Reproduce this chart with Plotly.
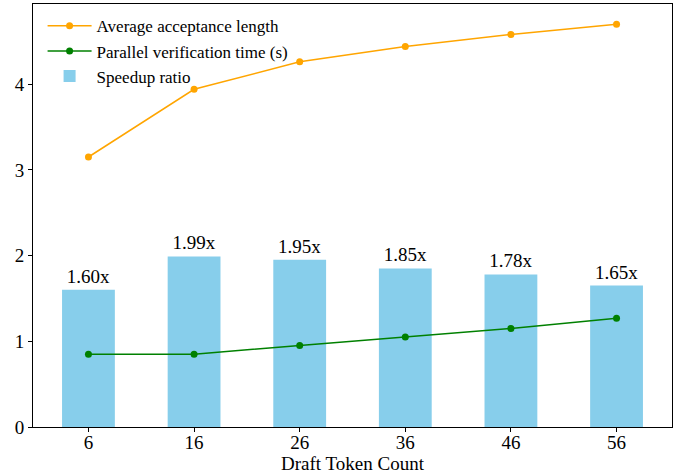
import plotly.graph_objects as go

draft_tokens = ["6", "16", "26", "36", "46", "56"]
speedup = [1.60, 1.99, 1.95, 1.85, 1.78, 1.65]
speedup_labels = ["1.60x", "1.99x", "1.95x", "1.85x", "1.78x", "1.65x"]
avg_accept_len = [3.15, 3.94, 4.26, 4.44, 4.58, 4.70]
verify_time = [0.85, 0.85, 0.95, 1.05, 1.15, 1.27]

FONT = "Liberation Serif"

fig = go.Figure()
fig.add_trace(go.Bar(
    x=draft_tokens, y=speedup, name="Speedup ratio",
    marker=dict(color="#87CEEB", line=dict(width=0)),
    width=0.5,
    text=speedup_labels, textposition="outside",
    textfont=dict(family=FONT, size=19, color="black"),
    cliponaxis=False,
    legendrank=3,
))
fig.add_trace(go.Scatter(
    x=draft_tokens, y=avg_accept_len, mode="lines+markers",
    name="Average acceptance length",
    line=dict(color="#FFA500", width=1.5),
    marker=dict(color="#FFA500", size=7),
    legendrank=1,
))
fig.add_trace(go.Scatter(
    x=draft_tokens, y=verify_time, mode="lines+markers",
    name="Parallel verification time (s)",
    line=dict(color="#008000", width=1.5),
    marker=dict(color="#008000", size=7),
    legendrank=2,
))

fig.update_layout(
    width=683, height=475,
    margin=dict(l=33, r=11, t=4, b=48),
    plot_bgcolor="white", paper_bgcolor="white",
    font=dict(family=FONT, size=19, color="black"),
    showlegend=True,
    legend=dict(
        x=0.015, y=0.99, xanchor="left", yanchor="top",
        font=dict(family=FONT, size=17, color="black"),
        traceorder="normal",
        bgcolor="rgba(255,255,255,0)",
        tracegroupgap=0,
        itemwidth=44,
    ),
    xaxis=dict(
        type="category", range=[-0.525, 5.525],
        showline=True, linecolor="black", linewidth=1, mirror=True,
        ticks="outside", ticklen=4, tickcolor="black",
        showgrid=False, zeroline=False, automargin=False,
        title=dict(text="Draft Token Count", font=dict(size=19), standoff=2),
        tickfont=dict(size=19),
        ticklabelstandoff=-6,
    ),
    yaxis=dict(
        range=[0, 4.935], dtick=1, tick0=0,
        showline=True, linecolor="black", linewidth=1, mirror=True,
        ticks="outside", ticklen=4, tickcolor="black",
        showgrid=False, zeroline=False, automargin=False,
        tickfont=dict(size=19),
    ),
)

fig.write_html(
    "out.html",
    config={"displayModeBar": False},
    post_script="document.body.style.margin='0';document.body.style.padding='0';",
)
